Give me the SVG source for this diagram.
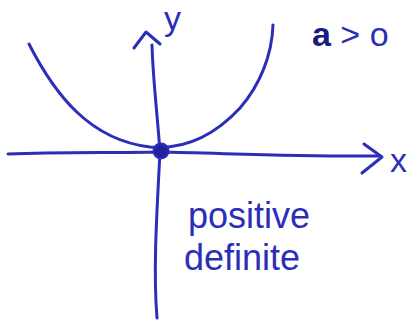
<svg xmlns="http://www.w3.org/2000/svg" width="419" height="322" viewBox="0 0 419 322">
<style>
.ink{fill:none;stroke:#2b2fb8;stroke-width:3;stroke-linecap:round;stroke-linejoin:round}
.lbl{fill:#2b2fb8;font-family:"Liberation Sans",Arial,sans-serif}
</style>
<rect width="419" height="322" fill="#fff"/>
<g id="connectors">
<path id="x-axis" class="ink" d="M8,154 C60,152 110,153 160,152 C220,153 300,157 378,156"/>
<path class="ink" d="M364,144 L382,157 L362,173"/>
<path id="y-axis" class="ink" d="M157,318 C153,270 157,210 160,152 C157,110 153,80 152,45"/>
<path class="ink" d="M134,48 L146,32 L160,44"/>
<path id="parabola" class="ink" d="M29,44 C55,95 90,140 150,147 C185,150 215,135 240,108 C260,85 272,55 273,25"/>
</g>
<g id="origin"><circle cx="161" cy="151" r="7.5" fill="#2222a0" stroke="#2b2fb8" stroke-width="2"/></g>
<g id="label-y"><text class="lbl" x="164" y="30" font-size="34">y</text></g>
<g id="label-x"><text class="lbl" x="390" y="172" font-size="34">x</text></g>
<g id="label-a"><text class="lbl" x="312" y="46" font-size="34"><tspan font-weight="bold" fill="#1a1a80">a</tspan> &gt; o</text></g>
<g id="label-pd">
<text class="lbl" x="188" y="228" font-size="36">positive</text>
<text class="lbl" x="184" y="270" font-size="36">definite</text>
</g>
</svg>
